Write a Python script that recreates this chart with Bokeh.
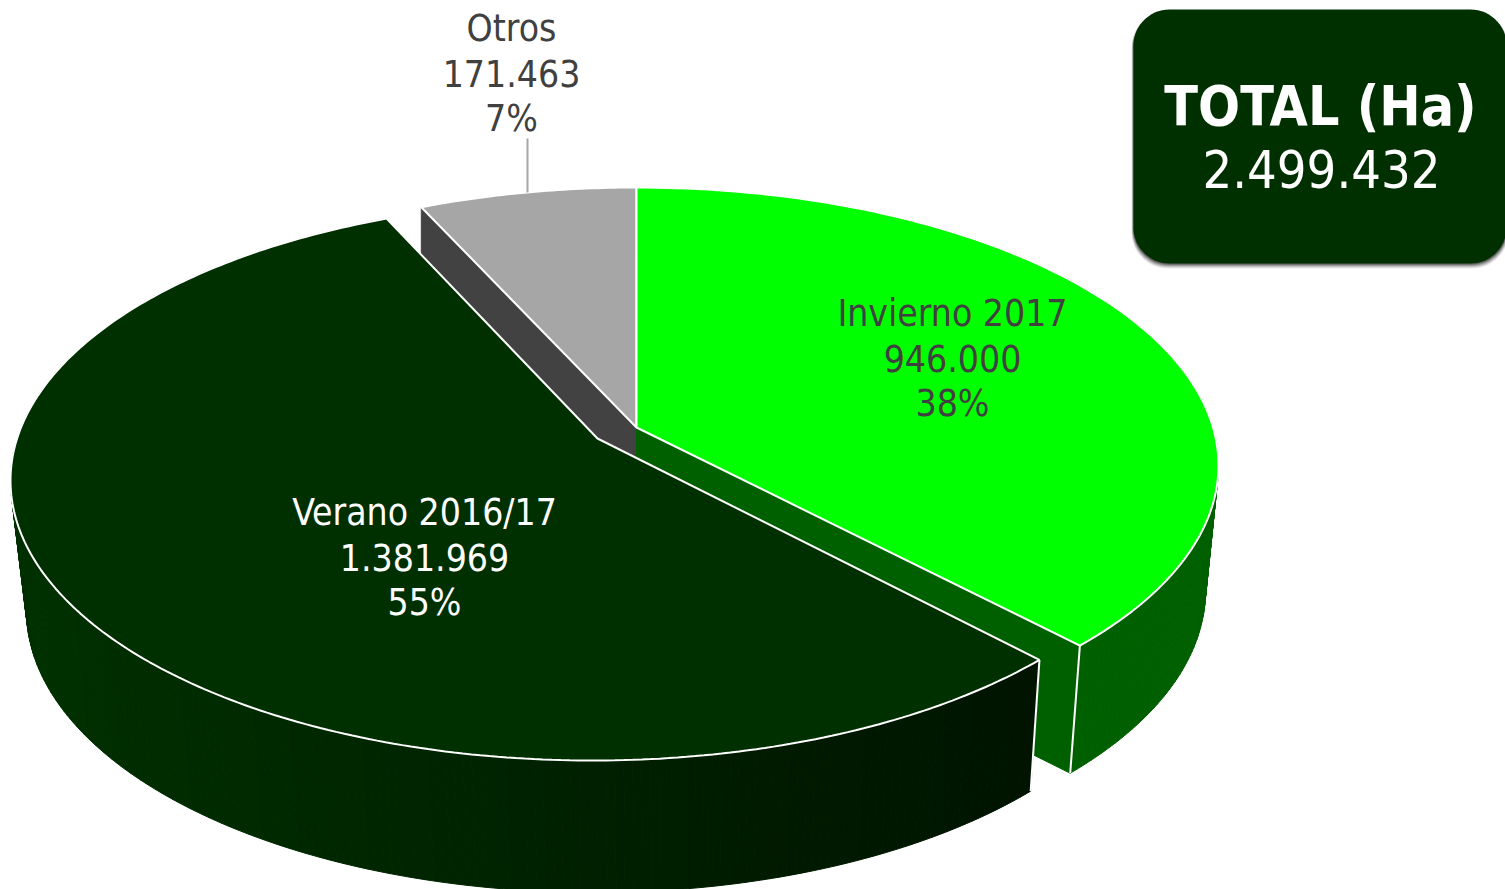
import numpy as np
from bokeh.plotting import figure
from bokeh.models import Range1d
from bokeh.core.properties import value
from bokeh.embed import file_html
from bokeh.resources import INLINE

# Data
names = ["Verano 2016/17", "Invierno 2017", "Otros"]
hectares = [1381969, 946000, 171463]
total_title = "TOTAL (Ha)"
total_value = 2499432

# Style
FONT = "DejaVu Sans Condensed"
TEXT_DARK = "#404040"
BASE_FIX = -14


def thousands(n):
    return f"{n:,}".replace(",", ".")


def hex_mix(c0, c1, f):
    return "#%02x%02x%02x" % tuple(int(round(a + (b - a) * f)) for a, b in zip(c0, c1))


class Disc:
    """Perspective pie top and its lower rim, in page pixels."""

    def __init__(self, apex, top, low, b0):
        self.ax, self.ay = apex
        self.cx, self.cy, self.a, self.b = top
        self.lx, self.ly, self.la, self.lb = low
        self.b0 = b0

    def rim(self, theta):
        theta = np.atleast_1d(theta)
        dx = self.a * np.sin(theta)
        dy = -self.b0 * np.cos(theta)
        ox = (self.ax - self.cx) / self.a
        oy = (self.ay - self.cy) / self.b
        ux = dx / self.a
        uy = dy / self.b
        A = ux ** 2 + uy ** 2
        B = 2 * (ox * ux + oy * uy)
        C = ox ** 2 + oy ** 2 - 1
        s = (-B + np.sqrt(B ** 2 - 4 * A * C)) / (2 * A)
        return self.ax + s * dx, self.ay + s * dy

    def lower(self, x, y):
        return (self.lx + (x - self.cx) * self.la / self.a,
                self.ly + (y - self.cy) * self.lb / self.b)


shares = np.array(hectares, dtype=float) / sum(hectares)
TAU = 2 * np.pi
inv_end = shares[1] * TAU
otros_start = TAU - shares[2] * TAU

back = Disc((636, 427), (636, 465, 582, 278), (637, 590, 568, 282), 274.0)
front = Disc((597, 438), (592, 480, 582, 280), (594, 610, 568, 282), 279.0)

p = figure(width=1505, height=889, x_range=Range1d(0, 1505), y_range=Range1d(889, 0),
           x_axis_type=None, y_axis_type=None, toolbar_location=None,
           output_backend="svg", min_border=0, outline_line_color=None)
p.grid.visible = False
p.background_fill_color = "white"
p.border_fill_color = "white"

# Otros cut face
ox0, oy0 = back.rim(otros_start)
p.patch([ox0[0], back.ax, back.ax, ox0[0]], [oy0[0], back.ay, back.ay + 130, oy0[0] + 130],
        fill_color="#424242", line_color="#424242")

# Invierno outer wall
th = np.linspace(0.25 * np.pi, inv_end, 120)
ux, uy = back.rim(th)
lx, ly = back.lower(ux, uy)
for i in range(0, len(th) - 1):
    p.patch([ux[i], ux[i + 1], lx[i + 1], lx[i]], [uy[i], uy[i + 1], ly[i + 1], ly[i]],
            fill_color="#006000", line_color="#006000")

# Invierno cut face
ex, ey = ux[-1], uy[-1]
elx, ely = lx[-1], ly[-1]
p.patch([back.ax, ex, elx, back.ax], [back.ay, ey, ely, back.ay + 130],
        fill_color="#006000", line_color="#006000")
p.line([ex, elx], [ey, ely], line_color="white", line_width=2)

# Otros top
th = np.linspace(otros_start, TAU, 40)
x, y = back.rim(th)
p.patch(np.r_[back.ax, x], np.r_[back.ay, y], fill_color="#a6a6a6", line_color="white", line_width=2)
p.line([527, 527], [138, 192], line_color="#a6a6a6", line_width=2)

# Invierno top
th = np.linspace(0, inv_end, 120)
x, y = back.rim(th)
p.patch(np.r_[back.ax, x], np.r_[back.ay, y], fill_color="#00ff00", line_color="white", line_width=2)

# Verano wall with horizontal gradient
th = np.linspace(inv_end, otros_start, 260)
ux, uy = front.rim(th)
lx, ly = front.lower(ux, uy)
for i in range(len(th) - 1):
    f = np.clip((ux[i] - 20) / (1032 - 20), 0, 1)
    col = hex_mix((0, 48, 0), (0, 20, 0), f)
    p.patch([ux[i], ux[i + 1], lx[i + 1], lx[i]], [uy[i], uy[i + 1], ly[i + 1], ly[i]],
            fill_color=col, line_color=col, line_width=1)
p.line([ux[0], lx[0]], [uy[0], ly[0]], line_color="white", line_width=2)

# Verano top
x, y = front.rim(th)
p.patch(np.r_[front.ax, x], np.r_[front.ay, y], fill_color="#002f00", line_color="white", line_width=2)


def label(cx, base, lines, color):
    for i, t in enumerate(lines):
        p.text([cx], [base + 45 * i + BASE_FIX], text=[t], text_font=value(FONT), text_font_size="37px",
               text_color=color, text_align="center", text_baseline="alphabetic")


def block(i):
    return [names[i], thousands(hectares[i]), f"{shares[i] * 100:.0f}%"]


label(424, 526, block(0), "white")
label(952, 327, block(1), TEXT_DARK)
label(511, 42, block(2), TEXT_DARK)


# Total box
def round_box(x0, y0, x1, y1, r):
    a = np.linspace(0, np.pi / 2, 16)
    xs = np.r_[x1 - r + r * np.sin(a), x1 - r + r * np.cos(a), x0 + r - r * np.sin(a), x0 + r - r * np.cos(a)]
    ys = np.r_[y0 + r - r * np.cos(a), y1 - r + r * np.sin(a), y1 - r + r * np.cos(a), y0 + r - r * np.sin(a)]
    return xs, ys


for grow, alpha in [(5, 0.08), (4, 0.12), (3, 0.16), (2, 0.22), (1, 0.3)]:
    xs, ys = round_box(1133 - grow * 0.4, 9 + 2, 1506 + grow * 0.4, 263 + grow, 36)
    p.patch(xs, ys, fill_color="black", fill_alpha=alpha, line_color=None)
xs, ys = round_box(1133, 9, 1506, 263, 36)
p.patch(xs, ys, fill_color="#003000", line_color=None)
p.text([1320], [105], text=[total_title], text_font=value(FONT), text_font_style="bold",
       text_font_size="55px", text_color="white", text_align="center", text_baseline="alphabetic")
p.text([1321], [168], text=[thousands(total_value)], text_font=value(FONT),
       text_font_size="52px", text_color="white", text_align="center", text_baseline="alphabetic")

open("out.html", "w").write(file_html(p, INLINE))
